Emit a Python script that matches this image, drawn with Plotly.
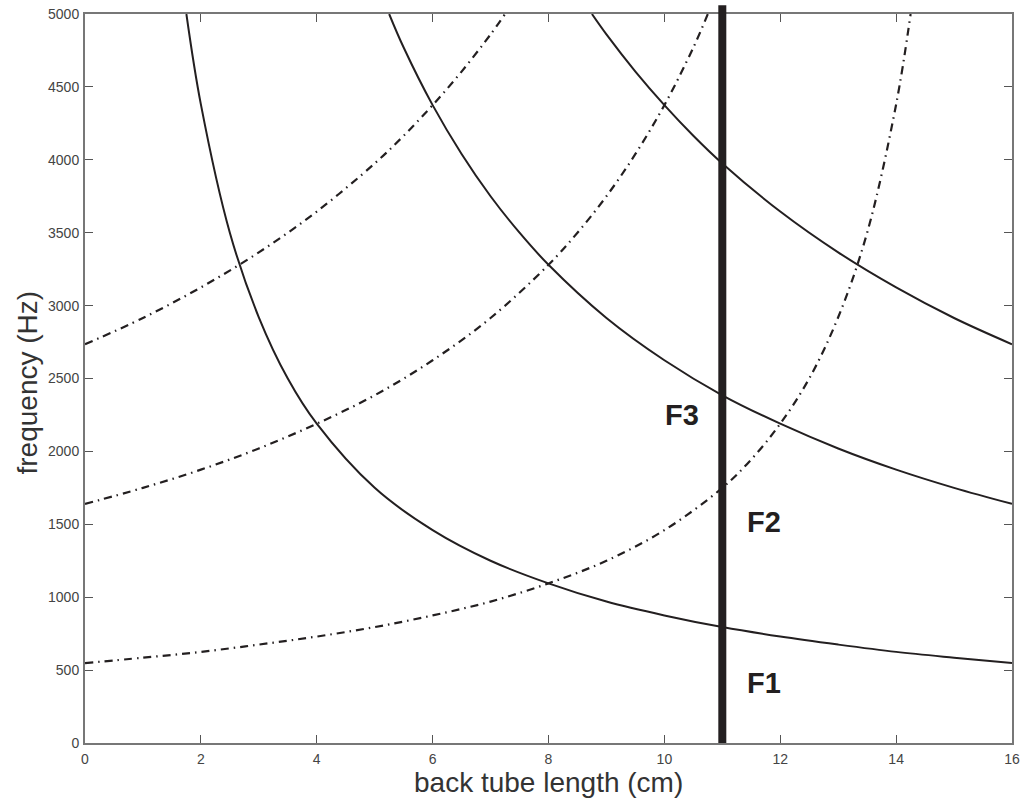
import plotly.graph_objects as go

# Back-cavity resonances (fall with back tube length), values in Hz
back_x1 = [1.75, 2, 2.5, 3, 3.5, 4, 5, 6, 7, 8, 9, 10, 11, 12, 13, 14, 15, 16]
back_y1 = [5000, 4380, 3500, 2920, 2500, 2190, 1750, 1460, 1250, 1095, 970, 875, 795, 730, 675, 625, 585, 548]

back_x2 = [5.25, 5.5, 6, 6.5, 7, 7.5, 8, 9, 10, 11, 12, 13, 14, 15, 16]
back_y2 = [5000, 4770, 4375, 4040, 3750, 3500, 3280, 2915, 2625, 2385, 2190, 2020, 1875, 1750, 1640]

back_x3 = [8.75, 9, 9.5, 10, 10.5, 11, 12, 13, 14, 15, 16]
back_y3 = [5000, 4860, 4605, 4375, 4165, 3975, 3645, 3365, 3125, 2915, 2735]

# Front-cavity resonances (rise as the front tube shortens), values in Hz
front_x1 = [0, 1, 2, 3, 4, 5, 6, 7, 8, 9, 10, 11, 11.5, 12, 12.5, 13, 13.5, 14, 14.25]
front_y1 = [548, 585, 625, 675, 730, 795, 875, 970, 1095, 1250, 1460, 1750, 1945, 2190, 2500, 2920, 3500, 4380, 5000]

front_x2 = [0, 1, 2, 3, 4, 5, 6, 7, 8, 8.5, 9, 9.5, 10, 10.5, 10.75]
front_y2 = [1640, 1750, 1875, 2020, 2190, 2385, 2625, 2915, 3280, 3500, 3750, 4040, 4375, 4770, 5000]

front_x3 = [0, 1, 2, 3, 4, 5, 5.5, 6, 6.5, 7, 7.25]
front_y3 = [2735, 2915, 3125, 3365, 3645, 3975, 4165, 4375, 4605, 4860, 5000]

# Chosen back tube length
cut_x = 11

# Formant labels
label_text = ["F3", "F2", "F1"]
label_x = [10.3, 11.72, 11.72]
label_y = [2250, 1515, 410]

x_ticks = [0, 2, 4, 6, 8, 10, 12, 14, 16]
y_ticks = [0, 500, 1000, 1500, 2000, 2500, 3000, 3500, 4000, 4500, 5000]

ink = "#231f20"
font_family = "Liberation Sans, Arial"
fig = go.Figure()

for xs, ys in [(back_x1, back_y1), (back_x2, back_y2), (back_x3, back_y3)]:
    fig.add_trace(go.Scatter(x=xs, y=ys, mode="lines", line_shape="spline",
                             line=dict(color=ink, width=2), showlegend=False,
                             hoverinfo="skip"))

for xs, ys in [(front_x1, front_y1), (front_x2, front_y2), (front_x3, front_y3)]:
    fig.add_trace(go.Scatter(x=xs, y=ys, mode="lines", line_shape="spline",
                             line=dict(color=ink, width=2.2, dash="8px,5px,1.5px,5px"),
                             showlegend=False, hoverinfo="skip"))

# Thick marker line at the chosen length, poking slightly above the frame
fig.add_shape(type="line", xref="x", yref="paper", x0=cut_x, x1=cut_x, y0=0, y1=1.012,
              line=dict(color=ink, width=8), layer="above")

for t, lx, ly in zip(label_text, label_x, label_y):
    fig.add_annotation(x=lx, y=ly, text="<b>" + t + "</b>", showarrow=False,
                       font=dict(family=font_family, size=29, color=ink),
                       xanchor="center", yanchor="middle")

# Axis titles
fig.add_annotation(xref="paper", yref="paper", x=0.5, y=0, yshift=-39,
                   text="back tube length (cm)", showarrow=False,
                   font=dict(family=font_family, size=28, color="#333333"),
                   xanchor="center", yanchor="middle")
fig.add_annotation(xref="paper", yref="paper", x=0, y=0.5, yshift=-4, xshift=-58,
                   text="frequency (Hz)", showarrow=False, textangle=-90,
                   font=dict(family=font_family, size=28, color="#333333"),
                   xanchor="center", yanchor="middle")

axis_common = dict(showgrid=False, zeroline=False, showline=True, mirror="ticks",
                   linecolor="#777777", linewidth=2, ticks="inside", ticklen=8,
                   tickwidth=1, tickcolor="#555555", automargin=False,
                   tickfont=dict(family=font_family, size=14, color="#444444"))

fig.update_xaxes(range=[0, 16], tickvals=x_ticks, ticklabelstandoff=2, **axis_common)
fig.update_yaxes(range=[0, 5000], tickvals=y_ticks, ticklabelstandoff=1, **axis_common)

fig.update_layout(width=1022, height=802, plot_bgcolor="white", paper_bgcolor="white",
                  margin=dict(l=85, r=10, t=14, b=59))

fig.write_html("out.html")
